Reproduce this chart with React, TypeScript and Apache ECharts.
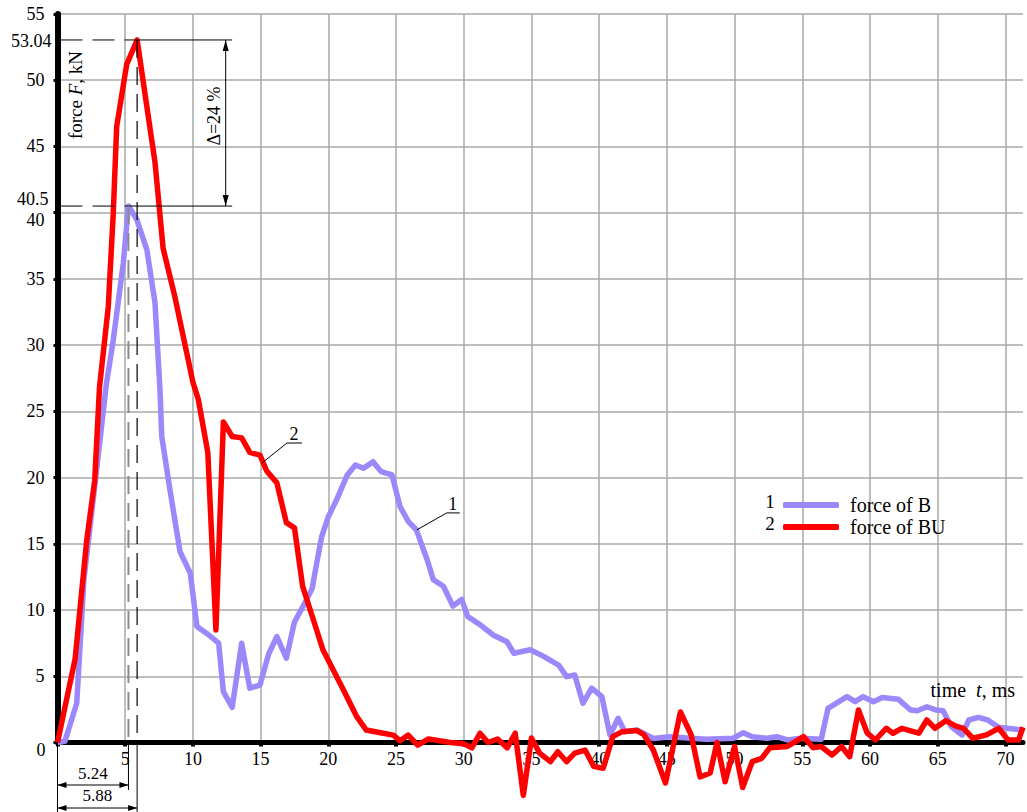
import React, { useEffect, useRef } from "react";
import * as echarts from "echarts";

// ---- data ----
const seriesNames = ["force of B", "force of BU"];
const seriesNumbers = ["1", "2"];

const forceB: [number, number][] = [
  [0, 0], [0.55, 0.1], [1.42, 2.96], [1.95, 12.3], [2.8, 19.8], [3.6, 27.0], [4.12, 30.4],
  [4.86, 36.2], [5.24, 40.5], [5.85, 39.5], [6.6, 37.2], [7.2, 33.2], [7.57, 26.6], [7.7, 23.1],
  [8.3, 19.1], [9.05, 14.4], [9.8, 12.8], [10.3, 8.75], [11.0, 8.25], [11.9, 7.5], [12.25, 3.84],
  [12.9, 2.65], [13.6, 7.5], [14.2, 4.1], [14.95, 4.34], [15.6, 6.7], [16.2, 8.0], [16.9, 6.36],
  [17.5, 9.1], [18.3, 10.6], [18.8, 11.6], [19.1, 13.3], [19.5, 15.5], [20.0, 17.05], [20.6, 18.3],
  [21.4, 20.2], [22.0, 20.95], [22.6, 20.7], [23.3, 21.2], [23.9, 20.45], [24.7, 20.2], [25.3, 17.8],
  [25.9, 16.7], [26.5, 16.05], [27.3, 13.8], [27.75, 12.3], [28.5, 11.8], [29.2, 10.3], [29.85, 10.8],
  [30.3, 9.5], [31.2, 8.9], [32.2, 8.1], [33.2, 7.6], [33.7, 6.74], [34.9, 7.0], [35.9, 6.5],
  [37.0, 5.85], [37.6, 4.97], [38.2, 5.1], [38.8, 2.96], [39.45, 4.1], [40.2, 3.46], [40.8, 0.57],
  [41.4, 1.83], [41.9, 0.82], [42.8, 0.94], [44.0, 0.3], [45.2, 0.44], [47.9, 0.24], [49.9, 0.32],
  [50.65, 0.74], [51.3, 0.44], [52.4, 0.32], [53.1, 0.44], [53.9, 0.19], [54.9, 0.32], [56.4, 0.24],
  [56.9, 2.58], [57.5, 2.96], [58.3, 3.46], [58.9, 3.08], [59.5, 3.46], [60.25, 3.08], [60.9, 3.4],
  [62.1, 3.26], [63.0, 2.45], [63.5, 2.4], [64.2, 2.7], [64.9, 2.45], [65.4, 2.4], [66.0, 1.2],
  [66.8, 0.57], [67.3, 1.7], [68.0, 1.9], [68.7, 1.7], [69.5, 1.15], [70.8, 1.0], [71.3, 0.94],
];

const forceBU: [number, number][] = [
  [0, 0], [1.3, 6.3], [2.15, 15.2], [2.75, 19.8], [3.1, 26.8], [3.75, 32.9], [4.12, 40.0],
  [4.37, 46.5], [5.11, 51.2], [5.88, 53.04], [7.2, 43.8], [7.8, 37.3], [8.68, 33.6], [10.0, 27.2],
  [10.4, 25.9], [11.1, 21.9], [11.7, 8.5], [12.25, 24.2], [12.9, 23.1], [13.6, 23.0], [14.2, 21.9],
  [14.95, 21.7], [15.45, 20.5], [16.2, 19.6], [16.9, 16.6], [17.5, 16.2], [18.1, 11.8], [18.9, 9.25],
  [19.6, 7.0], [21.1, 4.0], [22.1, 1.95], [22.8, 0.94], [24.05, 0.7], [24.8, 0.56], [25.3, 0.13],
  [25.9, 0.56], [26.6, -0.2], [27.4, 0.27], [29.0, 0], [30.0, -0.1], [30.6, -0.4], [31.2, 0.7],
  [31.8, 0], [32.5, 0.26], [33.2, -0.4], [33.8, 0.7], [34.4, -4.0], [35.0, 0.34], [35.6, -0.8],
  [36.4, -1.45], [36.95, -0.7], [37.6, -1.45], [38.2, -0.8], [38.96, -0.57], [39.6, -1.8],
  [40.3, -1.95], [41.0, 0.44], [41.7, 0.82], [42.8, 0.9], [43.3, 0.6], [44.0, -0.57], [44.9, -3.06],
  [46.0, 2.3], [46.8, 0.57], [47.45, -2.6], [48.2, -2.3], [48.7, 0], [49.3, -2.96], [50.0, -0.3],
  [50.6, -3.4], [51.3, -1.45], [52.0, -1.2], [52.6, -0.4], [53.9, -0.3], [55.1, 0.44], [55.8, -0.4],
  [56.4, -0.3], [57.2, -0.95], [57.9, -0.3], [58.5, -1.07], [59.15, 2.45], [59.8, 0.7], [60.4, 0.19],
  [61.2, 1.07], [61.7, 0.7], [62.35, 1.07], [63.6, 0.7], [64.2, 1.7], [64.8, 1.07], [65.6, 1.65],
  [66.3, 1.25], [66.9, 1.07], [67.6, 0.32], [68.6, 0.57], [69.5, 1.07], [70.2, 0.19], [70.97, 0.19],
  [71.3, 1.15],
];

const peakB: [number, number] = [5.24, 40.5];
const peakBU: [number, number] = [5.88, 53.04];
const peakLabels = ["40.5", "53.04"];
const timeLabels = ["5.24", "5.88"];
const deltaText = "Δ=24 %";
const calloutB: [number, number] = [26.53, 16.05];
const calloutBU: [number, number] = [15.1, 21.1];

const X_MIN = 0;
const X_MAX = 71.3;
const X_STEP = 5;
const Y_MIN = 0;
const Y_MAX = 55;
const Y_STEP = 5;

const FONT = "Liberation Serif";
const BLUE = "#9c87fb";
const RED = "#ff0000";

export default function App() {
  const ref = useRef<HTMLDivElement>(null);

  useEffect(() => {
    if (!ref.current) return;
    const chart = echarts.init(ref.current, null, { renderer: "svg" });

    const option: any = {
      animation: false,
      backgroundColor: "#ffffff",
      grid: { left: 57.5, top: 14, right: 4, bottom: 69.5, containLabel: false },
      xAxis: {
        type: "value",
        min: X_MIN,
        max: X_MAX,
        interval: X_STEP,
        axisLine: { show: true, onZero: true, lineStyle: { color: "#000", width: 5 } },
        axisTick: { show: true, length: 4, lineStyle: { color: "#000", width: 4 } },
        axisLabel: {
          color: "#000",
          fontFamily: FONT,
          fontSize: 18,
          margin: 7,
          showMaxLabel: false,
          formatter: (v: number) => (v > 0 && v % X_STEP === 0 ? String(v) : ""),
        },
        splitLine: { show: true, showMaxLine: false, lineStyle: { color: "#a8a8a8", width: 1.5 } },
      },
      yAxis: {
        type: "value",
        min: Y_MIN,
        max: Y_MAX,
        interval: Y_STEP,
        axisLine: { show: true, onZero: true, lineStyle: { color: "#000", width: 6 } },
        axisTick: { show: true, length: 4, lineStyle: { color: "#000", width: 3 } },
        axisLabel: {
          color: "#000",
          fontFamily: FONT,
          fontSize: 18,
          margin: 13,
          formatter: (v: number) => (v === 0 ? "" : v === 40 ? "{low|40}" : String(v)),
          rich: {
            low: { fontFamily: FONT, fontSize: 18, color: "#000", padding: [14, 0, 0, 0] },
          },
        },
        splitLine: { show: true, lineStyle: { color: "#a8a8a8", width: 1.5 } },
      },
      legend: {
        orient: "vertical",
        left: 778,
        top: 489,
        itemWidth: 56,
        itemHeight: 6,
        itemGap: 0,
        icon: "roundRect",
        data: seriesNames,
        textStyle: { fontFamily: FONT, fontSize: 20, color: "#000", lineHeight: 22, padding: [0, 0, 0, 6] },
        selectedMode: false,
      },
      series: [
        {
          name: seriesNames[0],
          type: "line",
          data: forceB,
          showSymbol: false,
          clip: false,
          color: BLUE,
          lineStyle: { color: BLUE, width: 5.5, join: "round" },
          z: 2,
        },
        {
          name: seriesNames[1],
          type: "line",
          data: forceBU,
          showSymbol: false,
          clip: false,
          color: RED,
          lineStyle: { color: RED, width: 5.5, join: "round" },
          z: 3,
        },
      ],
    };
    chart.setOption(option);

    const P = (t: number, f: number) => chart.convertToPixel({ gridIndex: 0 }, [t, f]) as number[];
    const [x0, y0] = P(0, 0);
    const [xB, yB] = P(peakB[0], peakB[1]);
    const [xBU, yBU] = P(peakBU[0], peakBU[1]);
    const xArrow = P(12.42, 0)[0];
    const xEnd = P(12.9, 0)[0];

    const thin = { stroke: "#000", lineWidth: 1 };
    const dashH = { stroke: "#000", lineWidth: 1, lineDash: [22, 10] };
    const dashV = { stroke: "#000", lineWidth: 1.2, lineDash: [18, 9] };
    const line = (x1: number, y1: number, x2: number, y2: number, style: any) => ({
      type: "line",
      shape: { x1, y1, x2, y2 },
      style,
      silent: true,
      z: 10,
    });
    const tri = (pts: number[][]) => ({
      type: "polygon",
      shape: { points: pts },
      style: { fill: "#000" },
      silent: true,
      z: 10,
    });
    const txt = (x: number, y: number, text: string, extra: any = {}, style: any = {}) => ({
      type: "text",
      x,
      y,
      z: 11,
      silent: true,
      ...extra,
      style: {
        text,
        fill: "#000",
        fontFamily: FONT,
        fontSize: 18,
        align: "center",
        verticalAlign: "middle",
        ...style,
      },
    });

    const yDim1 = 785;
    const yDim2 = 808;
    const ah = 9;
    const aw = 3;

    const [c1x, c1y] = P(calloutB[0], calloutB[1]);
    const [c2x, c2y] = P(calloutBU[0], calloutBU[1]);

    const graphic: any[] = [
      // horizontal reference lines
      line(x0 + 3, yBU, xBU, yBU, dashH),
      line(xBU, yBU, xEnd, yBU, thin),
      line(x0 + 3, yB, xB, yB, dashH),
      line(xB, yB, xEnd, yB, thin),
      // vertical reference lines
      line(xBU, yBU, xBU, y0, dashV),
      line(xBU, y0, xBU, 812, thin),
      line(xB, yB, xB, y0, { stroke: "#8a8a8a", lineWidth: 2, lineDash: [18, 9] }),
      line(xB, y0, xB, yDim1 + 5, thin),
      line(x0, y0, x0, 812, thin),
      // dimension arrows
      line(x0, yDim1, xB, yDim1, thin),
      tri([[x0, yDim1], [x0 + ah, yDim1 - aw], [x0 + ah, yDim1 + aw]]),
      tri([[xB, yDim1], [xB - ah, yDim1 - aw], [xB - ah, yDim1 + aw]]),
      line(x0, yDim2, xBU, yDim2, thin),
      tri([[x0, yDim2], [x0 + ah, yDim2 - aw], [x0 + ah, yDim2 + aw]]),
      tri([[xBU, yDim2], [xBU - ah, yDim2 - aw], [xBU - ah, yDim2 + aw]]),
      txt((x0 + xB) / 2, yDim1 - 12, timeLabels[0], {}, { fontSize: 17 }),
      txt((x0 + xBU) / 2, yDim2 - 13, timeLabels[1], {}, { fontSize: 17 }),
      // delta arrow
      line(xArrow, yBU, xArrow, yB, thin),
      tri([[xArrow, yBU], [xArrow - aw, yBU + 11], [xArrow + aw, yBU + 11]]),
      tri([[xArrow, yB], [xArrow - aw, yB - 11], [xArrow + aw, yB - 11]]),
      txt(xArrow - 12, (yBU + yB) / 2 - 7, deltaText, { rotation: Math.PI / 2 }, { fontSize: 18 }),
      // peak value labels
      txt(x0 - 6, yBU + 1, peakLabels[1], {}, { align: "right" }),
      txt(x0 - 9, yB - 7, peakLabels[0], {}, { align: "right" }),
      txt(41, 750, "0"),
      // axis titles
      {
        type: "text",
        x: 75,
        y: 95,
        rotation: Math.PI / 2,
        z: 11,
        silent: true,
        style: {
          text: "{a|force }{b|F}{a|, kN}",
          align: "center",
          verticalAlign: "middle",
          rich: {
            a: { fontFamily: FONT, fontSize: 19, fill: "#000" },
            b: { fontFamily: FONT, fontSize: 19, fontStyle: "italic", fill: "#000" },
          },
        },
      },
      {
        type: "text",
        x: 1015,
        y: 690,
        z: 11,
        silent: true,
        style: {
          text: "{a|time  }{b|t}{a|, ms}",
          align: "right",
          verticalAlign: "middle",
          rich: {
            a: { fontFamily: FONT, fontSize: 20, fill: "#000" },
            b: { fontFamily: FONT, fontSize: 20, fontStyle: "italic", fill: "#000" },
          },
        },
      },
      // callouts
      line(c2x, c2y, c2x + 25, c2y - 20, thin),
      line(c2x + 25, c2y - 20, c2x + 40, c2y - 20, thin),
      txt(c2x + 32, c2y - 29, seriesNumbers[1]),
      line(c1x, c1y, c1x + 30, c1y - 17, thin),
      line(c1x + 30, c1y - 17, c1x + 43, c1y - 17, thin),
      txt(c1x + 36, c1y - 26, seriesNumbers[0]),
      // legend numbers
      txt(770, 501, seriesNumbers[0], {}, { fontSize: 19 }),
      txt(770, 523, seriesNumbers[1], {}, { fontSize: 19 }),
    ];
    chart.setOption({ graphic });

    return () => chart.dispose();
  }, []);

  return (
    <div
      ref={ref}
      style={{ position: "fixed", left: 0, top: 0, width: 1027, height: 812, background: "#fff" }}
    />
  );
}
